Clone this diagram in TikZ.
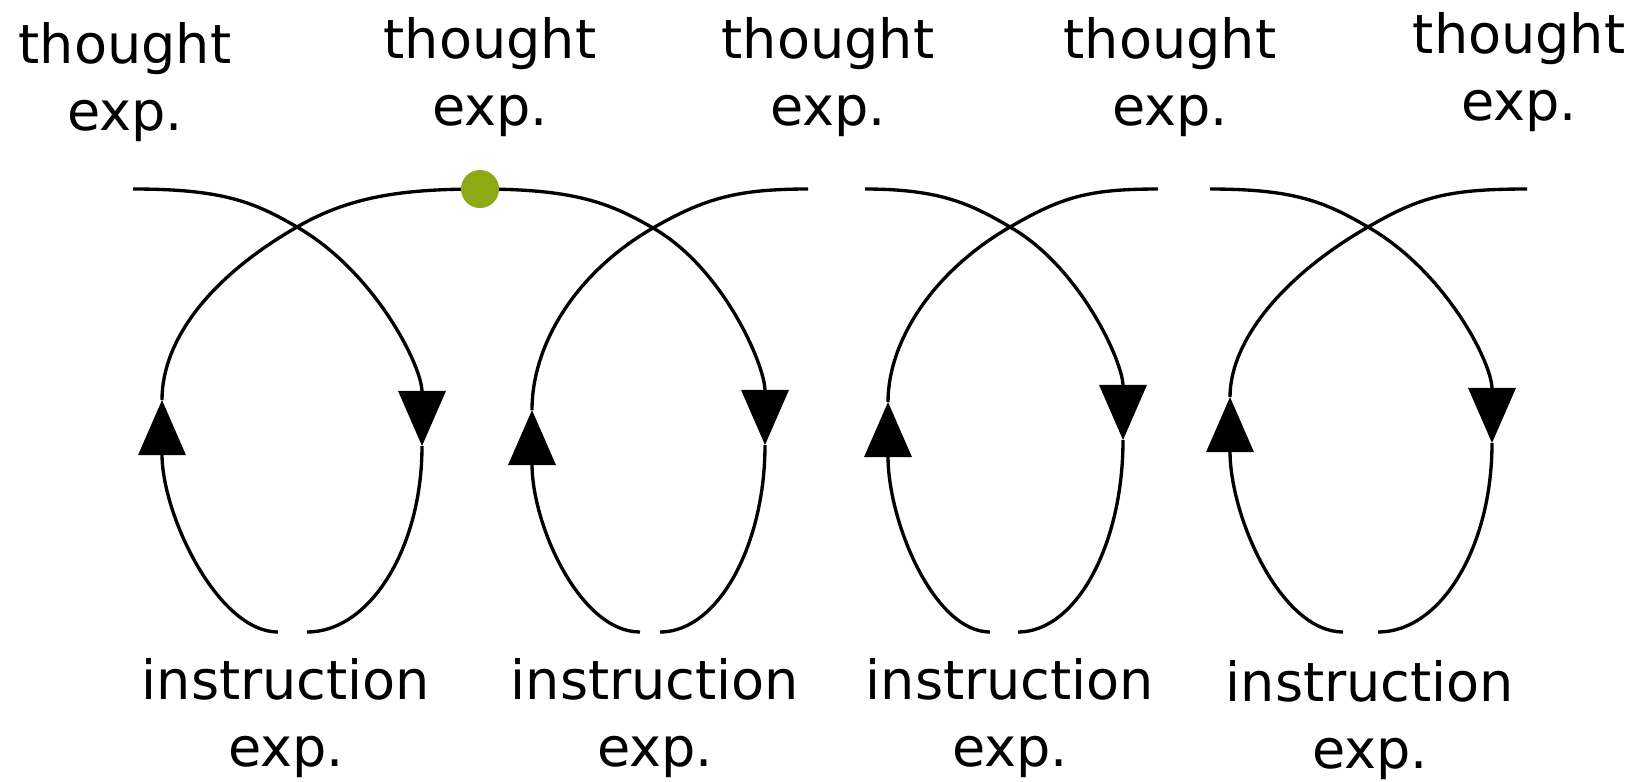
\documentclass[tikz,border=0pt]{standalone}
\usepackage{fontspec}
\newfontfamily\lblfont{DejaVu Sans}
\usetikzlibrary{arrows.meta}
\definecolor{dotgreen}{RGB}{140,170,20}
\begin{document}
\begin{tikzpicture}[x=0.01cm,y=-0.01cm,
  curve/.style={line width=0.95pt, black},
  tipd/.style={-{Triangle[length=0.55cm,width=0.47cm]}},
  lbl/.style={font=\lblfont\fontsize{15.36}{19}\selectfont, align=center, inner sep=0pt, anchor=north},
  gdot/.style={circle, fill=dotgreen, minimum size=0.38cm, inner sep=0pt}]
\useasboundingbox[fill=white] (0,0) rectangle (1637,781);

% key points
\coordinate (S1) at (133,189);
\coordinate (C1) at (297,227);
\coordinate (R1) at (422,446);
\coordinate (BR1) at (307,632);
\coordinate (BL1) at (278,632);
\coordinate (L1) at (162,400);
\coordinate (D) at (480,189);

\coordinate (C2) at (653,228);
\coordinate (R2) at (765,445);
\coordinate (BR2) at (660,632);
\coordinate (BL2) at (640,632);
\coordinate (L2) at (532,410);
\coordinate (E2) at (808,189);

\coordinate (S3) at (865,189);
\coordinate (C3) at (1010,227);
\coordinate (R3) at (1123,440);
\coordinate (BR3) at (1018,632);
\coordinate (BL3) at (990,632);
\coordinate (L3) at (888,402);
\coordinate (E3) at (1158,189);

\coordinate (S4) at (1210,189);
\coordinate (C4) at (1368,227);
\coordinate (R4) at (1492,443);
\coordinate (BR4) at (1378,632);
\coordinate (BL4) at (1343,632);
\coordinate (L4) at (1230,397);
\coordinate (E4) at (1527,189);

% loop 1
\draw[curve,tipd] (S1) .. controls +(90,0) and +(-43,-25) .. (C1)
  .. controls +(78,45) and +(0,-80) .. (R1);
\draw[curve] (R1) .. controls +(0,102) and +(63,0) .. (BR1);
\draw[curve,tipd] (BL1) .. controls +(-60,0) and +(0,115) .. (L1);
\draw[curve] (L1) .. controls +(0,-60) and +(-87,50) .. (C1)
  .. controls +(52,-30) and +(-80,0) .. (D);

% loop 2
\draw[curve,tipd] (D) .. controls +(95,0) and +(-43,-25) .. (C2)
  .. controls +(70,40) and +(0,-80) .. (R2);
\draw[curve] (R2) .. controls +(0,100) and +(58,0) .. (BR2);
\draw[curve,tipd] (BL2) .. controls +(-60,0) and +(0,115) .. (L2);
\draw[curve] (L2) .. controls +(0,-65) and +(-78,45) .. (C2)
  .. controls +(52,-30) and +(-70,0) .. (E2);

% loop 3
\draw[curve,tipd] (S3) .. controls +(75,0) and +(-39,-23) .. (C3)
  .. controls +(70,40) and +(0,-78) .. (R3);
\draw[curve] (R3) .. controls +(0,105) and +(58,0) .. (BR3);
\draw[curve,tipd] (BL3) .. controls +(-56,0) and +(0,120) .. (L3);
\draw[curve] (L3) .. controls +(0,-60) and +(-78,45) .. (C3)
  .. controls +(52,-30) and +(-70,0) .. (E3);

% loop 4
\draw[curve,tipd] (S4) .. controls +(85,0) and +(-43,-25) .. (C4)
  .. controls +(78,45) and +(0,-80) .. (R4);
\draw[curve] (R4) .. controls +(0,104) and +(63,0) .. (BR4);
\draw[curve,tipd] (BL4) .. controls +(-62,0) and +(0,120) .. (L4);
\draw[curve] (L4) .. controls +(0,-55) and +(-87,50) .. (C4)
  .. controls +(52,-30) and +(-80,0) .. (E4);

% green dot
\node[gdot] (dot) at (D) {};

% labels
\node[lbl] (t1) at (125,22) {thought\\exp.};
\node[lbl] (t2) at (490,17) {thought\\exp.};
\node[lbl] (t3) at (828,17) {thought\\exp.};
\node[lbl] (t4) at (1170,17) {thought\\exp.};
\node[lbl] (t5) at (1519,12) {thought\\exp.};

\node[lbl] (i1) at (286,658) {instruction\\exp.};
\node[lbl] (i2) at (655,658) {instruction\\exp.};
\node[lbl] (i3) at (1010,658) {instruction\\exp.};
\node[lbl] (i4) at (1370,660) {instruction\\exp.};
\end{tikzpicture}
\end{document}
